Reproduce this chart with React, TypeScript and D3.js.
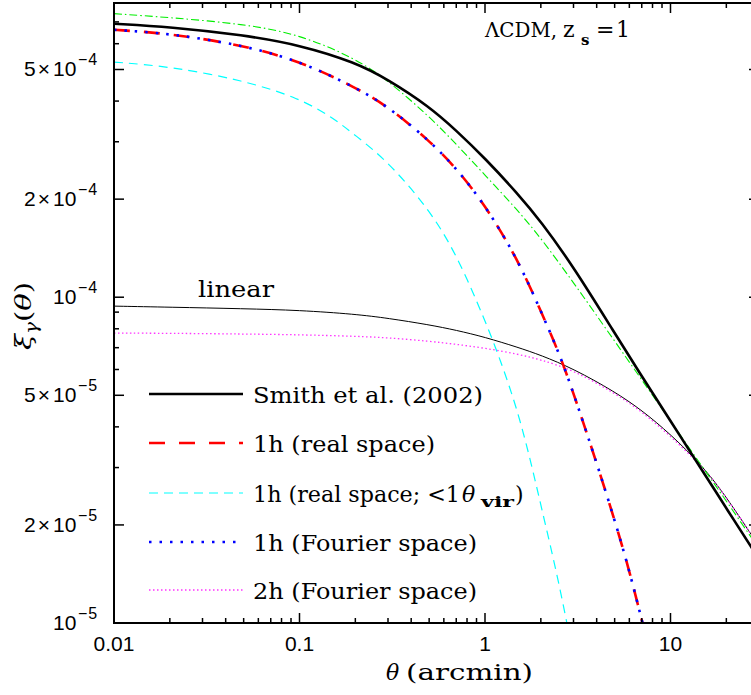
import React from 'react';
import * as d3 from 'd3';

// ---- data (theta in arcmin, xi_gamma) ----
const thetaMain = [0.01, 0.02, 0.05, 0.1, 0.2, 0.3, 0.5, 0.7, 1, 1.5, 2, 3, 5, 7, 10, 15, 20, 30];
const smith = [6.91e-4, 6.76e-4, 6.38e-4, 5.95e-4, 5.26e-4, 4.66e-4, 3.85e-4, 3.25e-4, 2.67e-4, 2.08e-4, 1.71e-4, 1.24e-4, 7.76e-5, 5.72e-5, 4.17e-5, 2.91e-5, 2.25e-5, 1.57e-5];
const greenModel = [7.42e-4, 7.22e-4, 6.90e-4, 6.41e-4, 5.41e-4, 4.63e-4, 3.59e-4, 2.95e-4, 2.37e-4, 1.85e-4, 1.52e-4, 1.11e-4, 7.33e-5, 5.58e-5, 4.17e-5, 2.99e-5, 2.37e-5, 1.69e-5];
const linearModel = [9.39e-5, 9.32e-5, 9.22e-5, 9.12e-5, 8.87e-5, 8.62e-5, 8.23e-5, 7.92e-5, 7.54e-5, 7.02e-5, 6.64e-5, 6.03e-5, 5.13e-5, 4.50e-5, 3.80e-5, 3.02e-5, 2.44e-5, 1.72e-5];
const twoHaloFourier = [7.76e-5, 7.75e-5, 7.71e-5, 7.67e-5, 7.59e-5, 7.51e-5, 7.33e-5, 7.17e-5, 6.98e-5, 6.69e-5, 6.43e-5, 5.97e-5, 5.08e-5, 4.46e-5, 3.75e-5, 3.00e-5, 2.44e-5, 1.72e-5];

const theta1h = [0.01, 0.02, 0.05, 0.1, 0.2, 0.3, 0.5, 0.7, 1, 1.5, 2, 2.5, 3, 4, 5, 6, 7.2];
const oneHaloReal = [6.62e-4, 6.45e-4, 5.93e-4, 5.31e-4, 4.41e-4, 3.85e-4, 3.03e-4, 2.49e-4, 1.92e-4, 1.31e-4, 9.06e-5, 6.78e-5, 5.08e-5, 3.10e-5, 2.07e-5, 1.45e-5, 9.58e-6];
const oneHaloFourier = [6.62e-4, 6.45e-4, 5.93e-4, 5.31e-4, 4.41e-4, 3.85e-4, 3.03e-4, 2.49e-4, 1.92e-4, 1.31e-4, 9.06e-5, 6.78e-5, 5.08e-5, 3.10e-5, 2.07e-5, 1.45e-5, 9.58e-6];

const thetaVir = [0.01, 0.02, 0.05, 0.1, 0.15, 0.2, 0.3, 0.5, 0.7, 1, 1.2, 1.5, 1.8, 2, 2.5, 2.9];
const oneHaloVir = [5.27e-4, 5.11e-4, 4.63e-4, 4.08e-4, 3.57e-4, 3.14e-4, 2.61e-4, 1.86e-4, 1.36e-4, 8.50e-5, 6.50e-5, 4.50e-5, 2.99e-5, 2.30e-5, 1.34e-5, 8.68e-6];

const xTickLabelValues = [0.01, 0.1, 1, 10];
const xTickLabels = ['0.01', '0.1', '1', '10'];
const yTickLabelValues = [1e-5, 2e-5, 5e-5, 1e-4, 2e-4, 5e-4];
const yTickMantissa = ['', '2×', '5×', '', '2×', '5×'];
const yTickExponent = ['−5', '−5', '−5', '−4', '−4', '−4'];

const legendLabels = ['Smith et al. (2002)', '1h (real space)', '1h (real space; <1θvir)', '1h (Fourier space)', '2h (Fourier space)'];

const W = 751;
const H = 695;
const L = 114, R = 759, T = 3, B = 623;

const x = d3.scaleLog().domain([0.01, 30]).range([L, R]);
const y = d3.scaleLog().domain([1e-5, 8e-4]).range([B, T]);

const lineGen = d3
  .line<[number, number]>()
  .x((d) => x(d[0]))
  .y((d) => y(d[1]))
  .curve(d3.curveBasis);

const pts = (xs: number[], ys: number[]) => xs.map((t, i) => [t, ys[i]] as [number, number]);

const serif = '"DejaVu Serif", serif';
const sans = '"Liberation Sans", Arial, sans-serif';

export default function App() {
  const xTicks: { v: number; major: boolean }[] = [];
  for (let e = -2; e <= 1; e++) {
    for (let m = 1; m <= 9; m++) {
      const v = m * Math.pow(10, e);
      if (v > 30.0001) continue;
      xTicks.push({ v, major: m === 1 });
    }
  }
  const yTicks: { v: number; major: boolean }[] = [];
  for (let e = -5; e <= -4; e++) {
    for (let m = 1; m <= 9; m++) {
      const v = m * Math.pow(10, e);
      if (v > 8.0001e-4) continue;
      yTicks.push({ v, major: m === 1 || m === 2 || m === 5 });
    }
  }

  const legendY = [394, 443, 493, 542, 590];
  const lx1 = 149, lx2 = 243, ltx = 253;
  const legendWidths = [230, 182, 0, 224, 224];

  return (
    <svg width={W} height={H} style={{ position: 'absolute', left: 0, top: 0, display: 'block', background: '#fff' }}>
      <defs>
        <clipPath id="plotClip">
          <rect x={L} y={T} width={R - L} height={B - T} />
        </clipPath>
      </defs>
      <rect x={0} y={0} width={W} height={H} fill="#fff" />

      <g clipPath="url(#plotClip)" fill="none">
        <path d={lineGen(pts(thetaMain, linearModel)) || ''} stroke="#000" strokeWidth={1} />
        <path d={lineGen(pts(thetaMain, twoHaloFourier)) || ''} stroke="#ff33ff" strokeWidth={1.3} strokeDasharray="1.5,2.5" />
        <path d={lineGen(pts(thetaVir, oneHaloVir)) || ''} stroke="#00ffff" strokeWidth={1.2} strokeDasharray="9,6" />
        <path d={lineGen(pts(thetaMain, greenModel)) || ''} stroke="#00ee00" strokeWidth={1.1} strokeDasharray="8,3,1.5,3" />
        <path d={lineGen(pts(thetaMain, smith)) || ''} stroke="#000" strokeWidth={2.6} />
        <path d={lineGen(pts(theta1h, oneHaloReal)) || ''} stroke="#ff0000" strokeWidth={2.6} strokeDasharray="16,14" />
        <path d={lineGen(pts(theta1h, oneHaloFourier)) || ''} stroke="#0000ff" strokeWidth={2.6} strokeDasharray="2.5,8" />
      </g>

      <rect x={L} y={T} width={R - L} height={B - T} fill="none" stroke="#000" strokeWidth={2} />

      {xTicks.map((t, i) => {
        const px = x(t.v);
        const len = t.major ? 10 : 5;
        return (
          <g key={'xt' + i} stroke="#000" strokeWidth={1.5}>
            <line x1={px} x2={px} y1={B} y2={B - len} />
            <line x1={px} x2={px} y1={T} y2={T + len} />
          </g>
        );
      })}
      {yTicks.map((t, i) => {
        const py = y(t.v);
        const len = t.major ? 10 : 5;
        return (
          <g key={'yt' + i} stroke="#000" strokeWidth={1.5}>
            <line x1={L} x2={L + len} y1={py} y2={py} />
            <line x1={R} x2={R - len} y1={py} y2={py} />
          </g>
        );
      })}

      {xTickLabelValues.map((v, i) => (
        <text key={'xl' + i} x={x(v)} y={651} textAnchor="middle" fontFamily={sans} fontSize={21} fill="#000">
          {xTickLabels[i]}
        </text>
      ))}
      {yTickLabelValues.map((v, i) => (
        <g key={'yl' + i} fontFamily={sans} fill="#000">
          {yTickMantissa[i] !== '' && (
            <text x={52} y={y(v) + 7} textAnchor="end" fontSize={21} letterSpacing={2}>
              {yTickMantissa[i]}
            </text>
          )}
          <text x={53} y={y(v) + 7} fontSize={21}>10</text>
          <text x={78} y={y(v) - 4} fontSize={16} letterSpacing={1}>{yTickExponent[i]}</text>
        </g>
      ))}

      {/* x axis title */}
      <text y={680} fontFamily={serif} fontSize={22} fill="#000">
        <tspan x={386} fontStyle="italic">θ</tspan>
        <tspan x={406} textLength={127} lengthAdjust="spacingAndGlyphs">(arcmin)</tspan>
      </text>
      {/* y axis title */}
      <g transform="translate(31,350) rotate(-90)">
        <text x={0} y={0} fontFamily={serif} fontSize={23} fill="#000" textLength={68} lengthAdjust="spacingAndGlyphs">
          <tspan fontStyle="italic">ξ</tspan>
          <tspan fontStyle="italic" fontSize={16} dy={6}>γ</tspan>
          <tspan dy={-6}>(</tspan>
          <tspan fontStyle="italic">θ</tspan>
          <tspan>)</tspan>
        </text>
      </g>

      {/* annotations */}
      <text x={485} y={37} fontFamily={serif} fontSize={20} textLength={72} lengthAdjust="spacingAndGlyphs" fill="#000">
        ΛCDM,
      </text>
      <text x={563} y={37} fontFamily={serif} fontSize={22} fill="#000">z</text>
      <text x={581} y={45} fontFamily={serif} fontSize={15} fontWeight="bold" fill="#000">s</text>
      <text x={596} y={37} fontFamily={serif} fontSize={22} fill="#000">=</text>
      <text x={616} y={37} fontFamily={serif} fontSize={22} fill="#000">1</text>
      <text x={198} y={297} fontFamily={serif} fontSize={22} textLength={76} lengthAdjust="spacingAndGlyphs" fill="#000">
        linear
      </text>

      {/* legend */}
      <g fill="none">
        <line x1={lx1} x2={lx2} y1={legendY[0]} y2={legendY[0]} stroke="#000" strokeWidth={2.6} />
        <line x1={lx1} x2={lx2} y1={legendY[1]} y2={legendY[1]} stroke="#ff0000" strokeWidth={2.6} strokeDasharray="16,14" />
        <line x1={lx1} x2={lx2} y1={legendY[2]} y2={legendY[2]} stroke="#00ffff" strokeWidth={1.2} strokeDasharray="9,6" />
        <line x1={lx1} x2={lx2} y1={legendY[3]} y2={legendY[3]} stroke="#0000ff" strokeWidth={2.6} strokeDasharray="2.5,8" />
        <line x1={lx1} x2={lx2} y1={legendY[4]} y2={legendY[4]} stroke="#ff33ff" strokeWidth={1.3} strokeDasharray="1.5,2.5" />
      </g>
      {legendLabels.map((lab, i) => {
        if (i === 2) {
          return (
            <g key={'lg' + i}>
              <text x={ltx} y={legendY[i] + 9} fontFamily={serif} fontSize={22} textLength={207} lengthAdjust="spacingAndGlyphs" fill="#000">
                1h (real space; &lt;1
              </text>
              <text x={462} y={legendY[i] + 9} fontFamily={serif} fontSize={22} fontStyle="italic" fill="#000">θ</text>
              <text x={481} y={legendY[i] + 14} fontFamily={serif} fontSize={15} fontWeight="bold" textLength={33} lengthAdjust="spacingAndGlyphs" fill="#000">vir</text>
              <text x={515} y={legendY[i] + 9} fontFamily={serif} fontSize={22} fill="#000">)</text>
            </g>
          );
        }
        return (
          <text key={'lg' + i} x={ltx} y={legendY[i] + 9} fontFamily={serif} fontSize={22} textLength={legendWidths[i]} lengthAdjust="spacingAndGlyphs" fill="#000">
            {lab}
          </text>
        );
      })}
    </svg>
  );
}
